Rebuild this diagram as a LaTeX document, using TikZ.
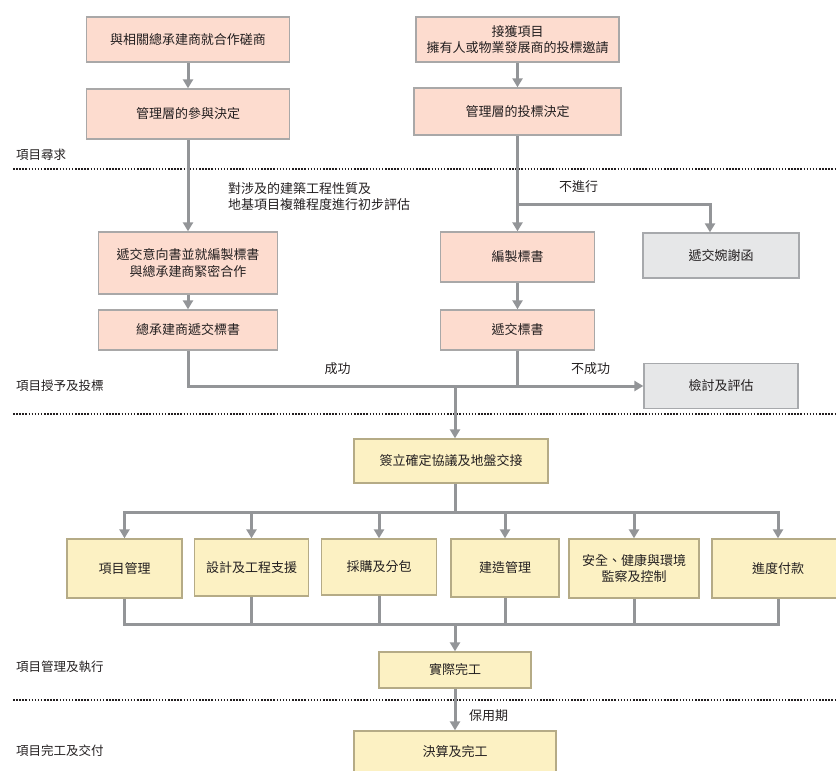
\documentclass[tikz,border=0pt]{standalone}
\usepackage{fontspec}
\setmainfont{Noto Sans CJK TC}
\usetikzlibrary{arrows.meta}
\definecolor{pinkf}{HTML}{FDDCCF}
\definecolor{pinkd}{HTML}{A9A8A8}
\definecolor{yelf}{HTML}{FCF1C3}
\definecolor{yeld}{HTML}{B5AB86}
\definecolor{greyf}{HTML}{E6E7E8}
\definecolor{greyd}{HTML}{A7A9AC}
\definecolor{conn}{HTML}{939598}
\definecolor{txt}{HTML}{231F20}
\tikzset{
  basebox/.style={line width=1.3pt, align=center, inner sep=0pt, text=txt,
    font=\fontsize{13}{16.5}\selectfont},
  pbox/.style={basebox, draw=pinkd, fill=pinkf},
  ybox/.style={basebox, draw=yeld, fill=yelf},
  gbox/.style={basebox, draw=greyd, fill=greyf},
  lab/.style={text=txt, inner sep=0pt, font=\fontsize{12.5}{16}\selectfont, align=left},
  conline/.style={draw=conn, line width=3pt, line cap=rect},
  arr/.style={draw=conn, line width=3pt, -{Triangle[width=10pt,length=9pt]}},
  sepline/.style={draw=txt, line width=1.5pt, dash pattern=on 1.5pt off 1.6pt}
}
\begin{document}
\begin{tikzpicture}[x=1pt,y=-1pt]
\useasboundingbox (0,0) rectangle (836,771);
% separators
\draw[sepline] (13,169) coordinate (s1a) -- (836,169) coordinate (s1b);
\draw[sepline] (13,414) coordinate (s2a) -- (836,414) coordinate (s2b);
\draw[sepline] (13,700) coordinate (s3a) -- (836,700) coordinate (s3b);
% boxes
\node[pbox, minimum width=203pt, minimum height=45pt] (b1) at (188,39.5) {與相關總承建商就合作磋商};
\node[pbox, minimum width=203pt, minimum height=50pt] (b2) at (188,114) {管理層的參與決定};
\node[pbox, minimum width=203pt, minimum height=45pt] (b3) at (517.5,39.5) {接獲項目\\擁有人或物業發展商的投標邀請};
\node[pbox, minimum width=207pt, minimum height=47pt] (b4) at (517.5,111.5) {管理層的投標決定};
\node[pbox, minimum width=179pt, minimum height=62pt] (b5) at (188,263) {遞交意向書並就編製標書\\與總承建商緊密合作};
\node[pbox, minimum width=179pt, minimum height=40pt] (b6) at (188,330) {總承建商遞交標書};
\node[pbox, minimum width=154pt, minimum height=50pt] (b7) at (517.5,257) {編製標書};
\node[pbox, minimum width=154pt, minimum height=40pt] (b8) at (517.5,330) {遞交標書};
\node[gbox, minimum width=156pt, minimum height=45pt] (b9) at (721,255.5) {遞交婉謝函};
\node[gbox, minimum width=154pt, minimum height=45pt] (b10) at (721,386) {檢討及評估};
\node[ybox, minimum width=194pt, minimum height=44pt] (b11) at (451,461) {簽立確定協議及地盤交接};
\node[ybox, minimum width=115pt, minimum height=59pt] (r1) at (124.5,568.5) {項目管理};
\node[ybox, minimum width=114pt, minimum height=57pt] (r2) at (251.5,567.5) {設計及工程支援};
\node[ybox, minimum width=115pt, minimum height=56pt] (r3) at (379,567) {採購及分包};
\node[ybox, minimum width=108pt, minimum height=58pt] (r4) at (505,568) {建造管理};
\node[ybox, minimum width=130pt, minimum height=59pt] (r5) at (634,568.5) {安全、健康與環境\\監察及控制};
\node[ybox, minimum width=132pt, minimum height=59pt] (r6) at (778,568.5) {進度付款};
\node[ybox, minimum width=152pt, minimum height=36pt] (b12) at (455,670) {實際完工};
\node[ybox, minimum width=202pt, minimum height=42pt] (b13) at (455,752) {決算及完工};
% labels
\node[lab, anchor=west] (l1) at (16,155) {項目尋求};
\node[lab, anchor=west] (l2) at (16,385.5) {項目授予及投標};
\node[lab, anchor=west] (l3) at (16,667) {項目管理及執行};
\node[lab, anchor=west] (l4) at (16,751) {項目完工及交付};
\node[lab, anchor=west, font=\fontsize{13}{16}\selectfont] (t1) at (228,197) {對涉及的建築工程性質及\\地基項目複雜程度進行初步評估};
\node[lab, font=\fontsize{13}{16}\selectfont] (t2) at (578.5,187) {不進行};
\node[lab, font=\fontsize{13}{16}\selectfont] (t3) at (337.5,369) {成功};
\node[lab, font=\fontsize{13}{16}\selectfont] (t4) at (590.5,369) {不成功};
\node[lab, anchor=west, font=\fontsize{13}{16}\selectfont] (t5) at (469,716) {保用期};
% connectors
\draw[arr] (b1.south) -- (b2.north);
\draw[arr] (b2.south) -- (b5.north);
\draw[arr] (b5.south) -- (b6.north);
\draw[arr] (b3.south) -- (b4.north);
\draw[arr] (b4.south) -- (b7.north);
\draw[arr] (b7.south) -- (b8.north);
\coordinate (br1) at (517.5,204);
\coordinate (br2) at (710,204);
\draw[arr] (br1) -- (br2) -- (br2 |- b9.north);
\draw[arr] (b6.south) |- (b10.west);
\draw[conline, line cap=butt] (b8.south) -- (b8.south |- b10.west);
\coordinate (m1) at (455,386);
\draw[arr] (m1) -- (m1 |- b11.north);
\coordinate (sp) at (455,512);
\draw[conline, line cap=butt] (m1 |- b11.south) -- (sp);
\draw[conline] (r1.north |- sp) -- (r6.north |- sp);
\foreach \n in {r1,r2,r3,r4,r5,r6} \draw[arr] (\n.north |- sp) -- (\n.north);
\coordinate (jn) at (455,624);
\draw[conline, line cap=butt, line join=miter] (r1.south) -- (r1.south |- jn) -- (r6.south |- jn) -- (r6.south);
\foreach \n in {r2,r3,r4,r5} \draw[conline, line cap=butt] (\n.south) -- (\n.south |- jn);
\draw[arr] (jn) -- (b12.north);
\draw[arr] (b12.south) -- (b13.north);
\end{tikzpicture}
\end{document}
